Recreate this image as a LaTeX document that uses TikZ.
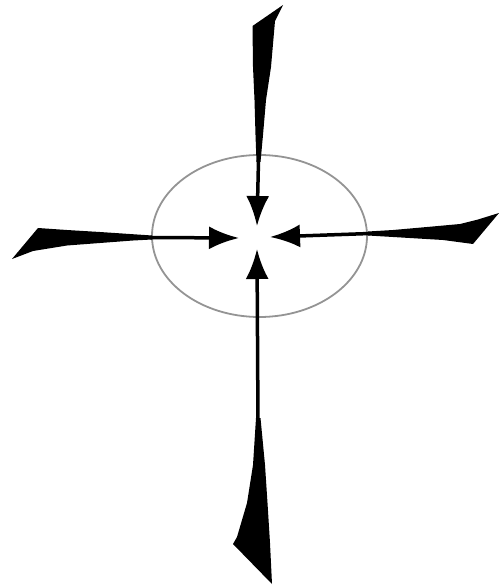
\documentclass[tikz,border=0pt]{standalone}
\usetikzlibrary{arrows.meta}
\begin{document}
\begin{tikzpicture}[x=1pt,y=-1pt,
  ring/.style={draw=black!42,line width=1.8pt},
  shaft/.style={draw=black,line width=3.5pt,-{Latex[length=30pt,width=23pt]}},
  tail/.style={fill=black,draw=none}]
\useasboundingbox (0,0) rectangle (499,585);
% ellipse
\coordinate (c) at (259.5,236);
\draw[ring] (c) ellipse [x radius=107.5pt,y radius=81pt];
% tips and shaft starts
\coordinate (tT) at (257,226);
\coordinate (tB) at (257,249);
\coordinate (tL) at (239,238);
\coordinate (tR) at (270,237);
\coordinate (sT) at (258.5,160);
\coordinate (sB) at (258,425);
\coordinate (sL) at (150,237.5);
\coordinate (sR) at (370,233.5);
% tails
\fill[tail] (252.5,26) -- (283,5) -- (275,21) -- (271,67) -- (266,100) -- (263,135) -- (260.5,162) -- (256.5,162) -- (255.5,135) -- (254.5,100) -- (253,67) -- cycle;
\fill[tail] (256,418) -- (253,465) -- (247,503) -- (237,537) -- (233,544) -- (272,584) -- (270,543) -- (267.5,503) -- (265,465) -- (260.5,418) -- cycle;
\fill[tail] (12,259) -- (38,228) -- (67,230) -- (100,232) -- (152,235.5) -- (152,239.5) -- (133,240.5) -- (100,243) -- (67,245.5) -- (33,251) -- cycle;
\fill[tail] (499,213) -- (473,244) -- (443,240) -- (393,237) -- (368,235.5) -- (368,231.5) -- (393,230) -- (427,227) -- (460,224) -- (478,219.5) -- cycle;
% shafts with heads
\draw[shaft] (sT) -- (tT);
\draw[shaft] (sB) -- (tB);
\draw[shaft] (sL) -- (tL);
\draw[shaft] (sR) -- (tR);
\end{tikzpicture}
\end{document}
